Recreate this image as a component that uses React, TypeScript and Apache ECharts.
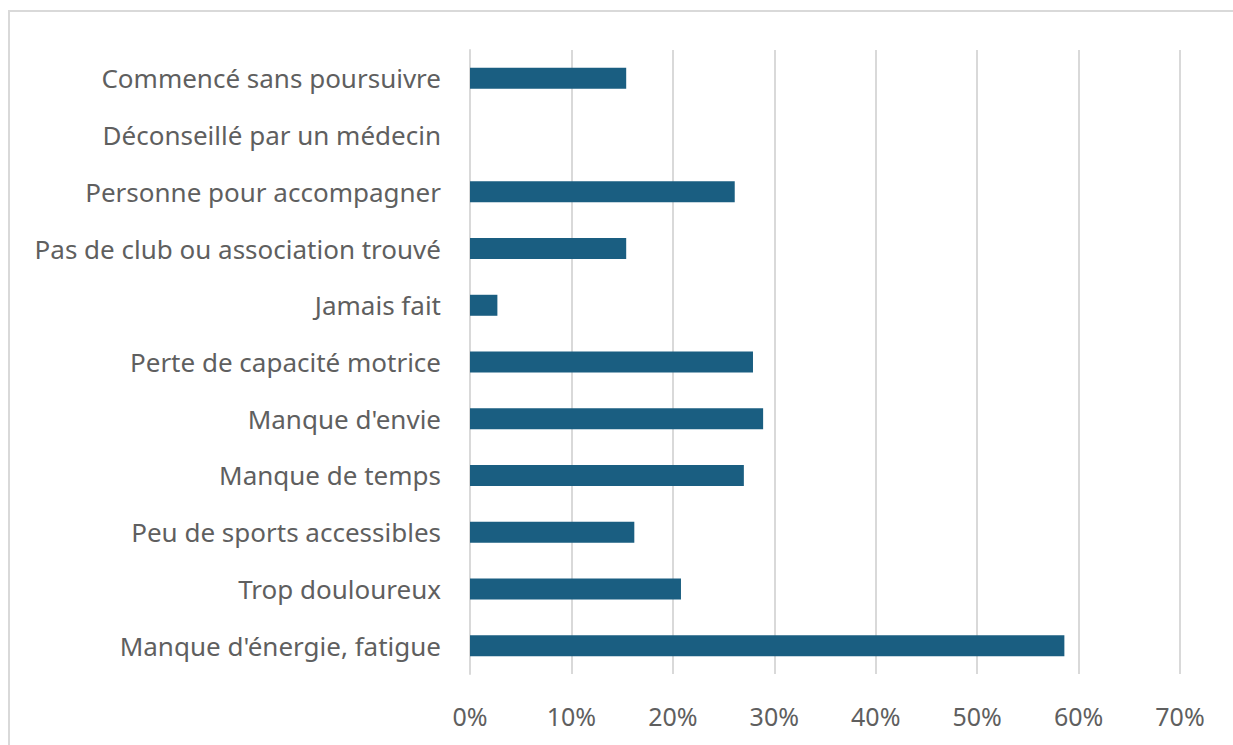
import React, { useEffect, useRef } from "react";
import * as echarts from "echarts";

const categories = [
  "Commencé sans poursuivre",
  "Déconseillé par un médecin",
  "Personne pour accompagner",
  "Pas de club ou association trouvé",
  "Jamais fait",
  "Perte de capacité motrice",
  "Manque d'envie",
  "Manque de temps",
  "Peu de sports accessibles",
  "Trop douloureux",
  "Manque d'énergie, fatigue",
];
const values = [15.4, 0, 26.1, 15.4, 2.7, 27.9, 28.9, 27.0, 16.2, 20.8, 58.6];
const axisMin = 0;
const axisMax = 70;
const axisStep = 10;

export default function App() {
  const ref = useRef<HTMLDivElement>(null);
  useEffect(() => {
    if (!ref.current) return;
    const chart = echarts.init(ref.current, null, { renderer: "svg" });
    chart.setOption({
      animation: false,
      backgroundColor: "#ffffff",
      graphic: [
        {
          type: "rect",
          shape: { x: 9, y: 11, width: 1240, height: 760 },
          style: { fill: "none", stroke: "#d9d9d9", lineWidth: 2 },
          silent: true,
        },
      ],
      grid: { left: 470, right: 53, top: 50, bottom: 71, containLabel: false },
      xAxis: {
        type: "value",
        min: axisMin,
        max: axisMax,
        interval: axisStep,
        axisLine: { show: false },
        axisTick: { show: false },
        splitLine: { show: true, lineStyle: { color: "#d9d9d9", width: 2 } },
        axisLabel: {
          formatter: (v: number) => `${v}%`,
          color: "#5f5f5f",
          fontFamily: "Noto Sans",
          fontSize: 25,
          margin: 29,
        },
      },
      yAxis: {
        type: "category",
        data: categories,
        inverse: true,
        axisLine: { show: true, lineStyle: { color: "#d9d9d9", width: 2 } },
        axisTick: { show: false },
        axisLabel: {
          color: "#5f5f5f",
          fontFamily: "Noto Sans",
          fontSize: 26,
          margin: 29,
        },
      },
      series: [
        {
          type: "bar",
          data: values,
          barWidth: 21,
          itemStyle: { color: "#1a5e81" },
        },
      ],
    });
    return () => chart.dispose();
  }, []);
  return (
    <div
      ref={ref}
      style={{ position: "fixed", left: 0, top: 0, width: 1233, height: 745 }}
    />
  );
}
